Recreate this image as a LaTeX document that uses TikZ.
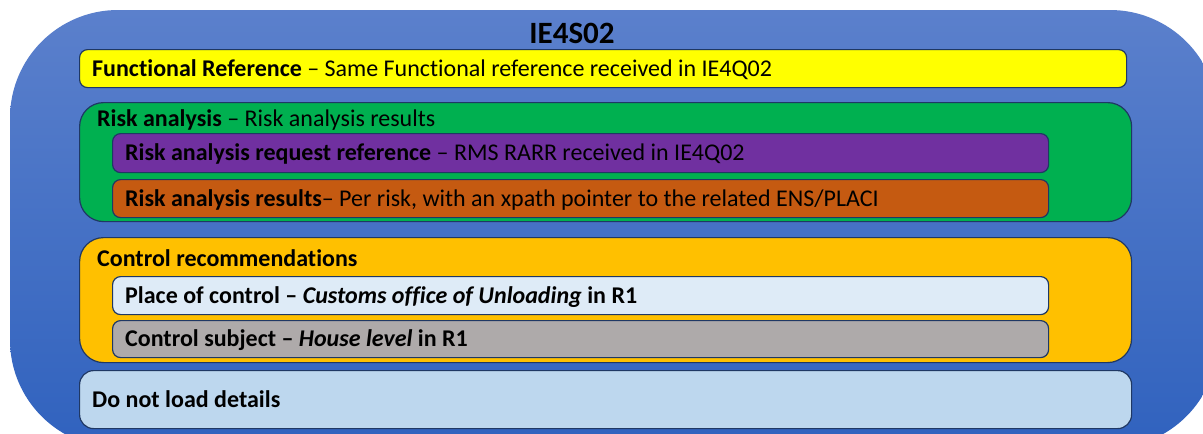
\documentclass[tikz,border=0pt]{standalone}
\usepackage{fontspec}
\setmainfont[Ligatures={TeX,NoCommon}]{Carlito}
\definecolor{outertop}{HTML}{5B80CC}
\definecolor{outerbot}{HTML}{3062BE}
\definecolor{edge}{HTML}{1F3864}
\definecolor{cyellow}{HTML}{FFFF00}
\definecolor{cgreen}{HTML}{00B050}
\definecolor{cpurple}{HTML}{7030A0}
\definecolor{corange}{HTML}{C55A11}
\definecolor{cgold}{HTML}{FFC000}
\definecolor{clight}{HTML}{DEEBF7}
\definecolor{cgray}{HTML}{AEAAAA}
\definecolor{cpale}{HTML}{BDD7EE}
\tikzset{
  box/.style={draw=edge, line width=1.2pt, rounded corners=8pt, anchor=north west, inner sep=0pt},
  bigbox/.style={box, rounded corners=24pt},
  txt/.style={anchor=west, inner sep=0pt, font=\fontsize{24}{28}\selectfont, text=black},
}
\begin{document}
\begin{tikzpicture}[x=1pt,y=-1pt]
\useasboundingbox (0,0) rectangle (1203,434);
\clip (0,0) rectangle (1203,434);
\shade[top color=outertop, bottom color=outerbot, rounded corners=108pt] (10,10) rectangle (1218,448);
\node[font=\fontsize{31}{36}\selectfont\bfseries, inner sep=0pt] (title) at (572,33) {IE4S02};
% Functional reference
\node[box, fill=cyellow, minimum width=1047pt, minimum height=38pt] (func) at (79,49) {};
\node[txt] (functxt) at ([xshift=13pt,yshift=-1pt]func.west) {\textbf{Functional Reference} -- Same Functional reference received in IE4Q02};
% Risk analysis
\node[bigbox, fill=cgreen, minimum width=1052pt, minimum height=119pt] (risk) at (79,102) {};
\node[txt] (risktxt) at (97,120) {\textbf{Risk analysis} -- Risk analysis results};
\node[box, fill=cpurple, minimum width=936pt, minimum height=39pt] (rarr) at (112,133) {};
\node[txt] (rarrtxt) at ([xshift=13pt,yshift=-1pt]rarr.west) {\textbf{Risk analysis request reference} -- RMS RARR received in IE4Q02};
\node[box, fill=corange, minimum width=936pt, minimum height=38pt] (res) at (112,179) {};
\node[txt] (restxt) at ([xshift=13pt,yshift=-1pt]res.west) {\textbf{Risk analysis results}-- Per risk, with an xpath pointer to the related ENS/PLACI};
% Control recommendations
\node[bigbox, fill=cgold, minimum width=1052pt, minimum height=125pt] (ctrl) at (79,237) {};
\node[txt] (ctrltxt) at (97,258) {\textbf{Control recommendations}};
\node[box, fill=clight, minimum width=936pt, minimum height=38pt] (place) at (112,276) {};
\node[txt] (placetxt) at ([xshift=13pt,yshift=-1pt]place.west) {\textbf{Place of control -- \textit{Customs office of Unloading} in R1}};
\node[box, fill=cgray, minimum width=936pt, minimum height=37pt] (subj) at (112,320) {};
\node[txt] (subjtxt) at ([xshift=13pt,yshift=-1pt]subj.west) {\textbf{Control subject -- \textit{House level} in R1}};
% Do not load
\node[box, rounded corners=14pt, fill=cpale, minimum width=1052pt, minimum height=58pt] (dnl) at (79,370) {};
\node[txt] (dnltxt) at ([xshift=13pt]dnl.west) {\textbf{Do not load details}};
\end{tikzpicture}
\end{document}
